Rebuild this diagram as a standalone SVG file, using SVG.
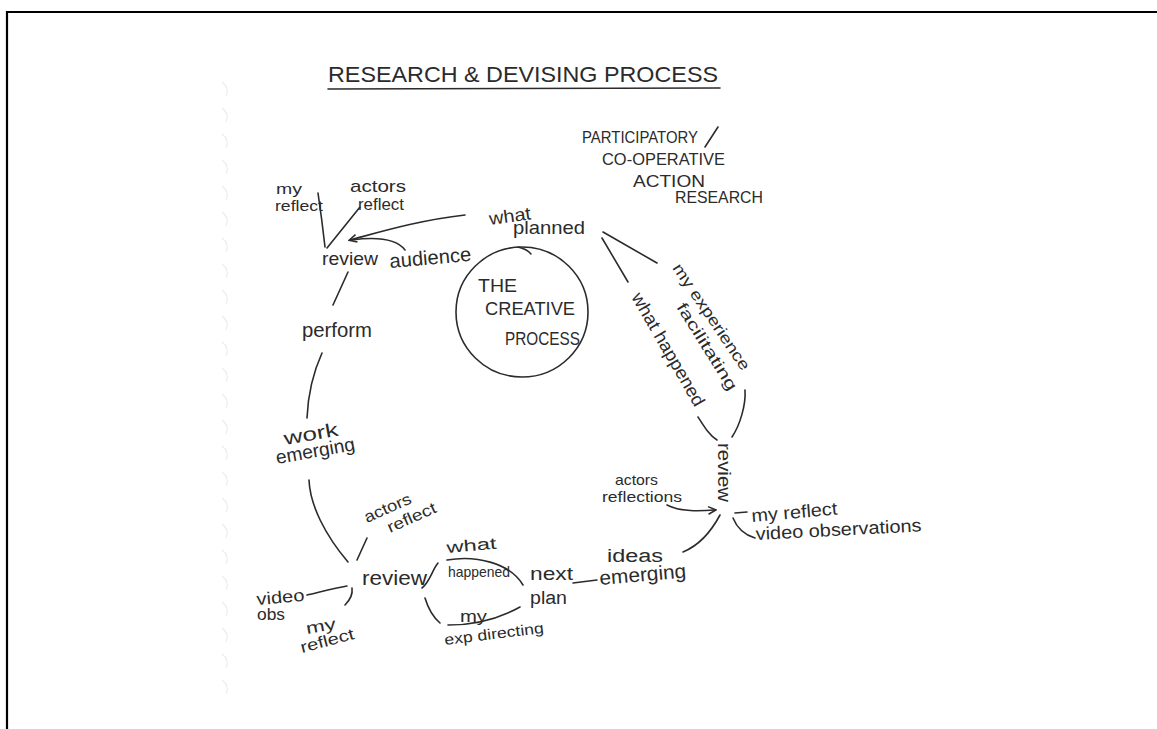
<svg xmlns="http://www.w3.org/2000/svg" width="1157" height="729" viewBox="0 0 1157 729">
  <style>
    .ink { fill: none; stroke: #2b2b2b; stroke-width: 1.6; stroke-linecap: round; stroke-linejoin: round; }
    .frame { fill: none; stroke: #000; stroke-width: 2.2; }
    .hole { fill: none; stroke: #ececec; stroke-width: 1.2; }
    .caps { font-family: "Liberation Sans", "DejaVu Sans", sans-serif; fill: #2b2b2b; }
    .hand { font-family: "Liberation Sans", "DejaVu Sans", sans-serif; fill: #2b2b2b; }
  </style>
  <defs>
    <marker id="tip" viewBox="0 0 10 10" refX="8" refY="5" markerWidth="6" markerHeight="6" orient="auto-start-reverse">
      <path d="M1,1 L9,5 L1,9" fill="none" stroke="#2b2b2b" stroke-width="1.6"/>
    </marker>
  </defs>

  <rect width="1157" height="729" fill="#fff"/>
  <path class="frame" d="M7,729 L7,12 L1157,12"/>

  <!-- notebook punch marks along the left margin -->
  <g id="margin">
    <path class="hole" d="M222,82 q8,6 4,14"/>
    <path class="hole" d="M222,108 q8,6 4,14"/>
    <path class="hole" d="M222,134 q8,6 4,14"/>
    <path class="hole" d="M222,160 q8,6 4,14"/>
    <path class="hole" d="M222,186 q8,6 4,14"/>
    <path class="hole" d="M222,212 q8,6 4,14"/>
    <path class="hole" d="M222,238 q8,6 4,14"/>
    <path class="hole" d="M222,264 q8,6 4,14"/>
    <path class="hole" d="M222,290 q8,6 4,14"/>
    <path class="hole" d="M222,316 q8,6 4,14"/>
    <path class="hole" d="M222,342 q8,6 4,14"/>
    <path class="hole" d="M222,368 q8,6 4,14"/>
    <path class="hole" d="M222,394 q8,6 4,14"/>
    <path class="hole" d="M222,420 q8,6 4,14"/>
    <path class="hole" d="M222,446 q8,6 4,14"/>
    <path class="hole" d="M222,472 q8,6 4,14"/>
    <path class="hole" d="M222,498 q8,6 4,14"/>
    <path class="hole" d="M222,524 q8,6 4,14"/>
    <path class="hole" d="M222,550 q8,6 4,14"/>
    <path class="hole" d="M222,576 q8,6 4,14"/>
    <path class="hole" d="M222,602 q8,6 4,14"/>
    <path class="hole" d="M222,628 q8,6 4,14"/>
    <path class="hole" d="M222,654 q8,6 4,14"/>
    <path class="hole" d="M222,680 q8,6 4,14"/>
  </g>

  <!-- heading -->
  <g id="title">
    <text class="caps" x="328" y="82" font-size="22" textLength="390" lengthAdjust="spacingAndGlyphs">RESEARCH &amp; DEVISING PROCESS</text>
    <path class="ink" d="M328,89 L720,88" stroke-width="2"/>
  </g>

  <g id="method">
    <text class="caps" x="582" y="143" font-size="17" textLength="116" lengthAdjust="spacingAndGlyphs">PARTICIPATORY</text>
    <path class="ink" d="M705,147 L718,127"/>
    <text class="caps" x="602" y="165" font-size="17" textLength="123" lengthAdjust="spacingAndGlyphs">CO-OPERATIVE</text>
    <text class="caps" x="633" y="187" font-size="17" textLength="72" lengthAdjust="spacingAndGlyphs">ACTION</text>
    <text class="caps" x="675" y="203" font-size="17" textLength="88" lengthAdjust="spacingAndGlyphs">RESEARCH</text>
  </g>

  <!-- centre -->
  <g id="creative-process">
    <ellipse class="ink" cx="522" cy="312" rx="66" ry="65" stroke-width="2"/>
    <path class="ink" d="M518,247 Q527,249 531,254" stroke-width="2"/>
    <text class="caps" x="478" y="292" font-size="18" textLength="39" lengthAdjust="spacingAndGlyphs">THE</text>
    <text class="caps" x="485" y="315" font-size="18" textLength="90" lengthAdjust="spacingAndGlyphs">CREATIVE</text>
    <text class="caps" x="505" y="345" font-size="18" textLength="75" lengthAdjust="spacingAndGlyphs">PROCESS</text>
  </g>

  <!-- connectors -->
  <g id="connectors">
    <path class="ink" d="M318,193 Q322,220 325,247"/>
    <path class="ink" d="M360,207 L327,248"/>
    <path class="ink" d="M465,215 C420,220 380,232 350,240" marker-end="url(#tip)"/>
    <path class="ink" d="M405,250 C398,241 382,236 352,240"/>
    <path class="ink" d="M348,272 L333,305"/>
    <path class="ink" d="M322,353 C312,375 308,395 307,418"/>
    <path class="ink" d="M309,480 C310,505 325,535 348,562"/>
    <path class="ink" d="M367,538 L357,560"/>
    <path class="ink" d="M307,595 C320,592 335,588 347,586"/>
    <path class="ink" d="M352,588 C353,595 350,600 345,605"/>
    <path class="ink" d="M422,588 C430,582 432,570 438,563"/>
    <path class="ink" d="M447,560 C476,555 510,563 523,585"/>
    <path class="ink" d="M425,598 C428,608 433,617 440,623"/>
    <path class="ink" d="M448,625 C475,625 500,618 520,607"/>
    <path class="ink" d="M573,583 L597,580"/>
    <path class="ink" d="M683,552 C700,545 712,530 720,515"/>
    <path class="ink" d="M667,505 C680,512 700,511 715,510" marker-end="url(#tip)"/>
    <path class="ink" d="M735,513 L747,512"/>
    <path class="ink" d="M733,518 C737,528 745,535 755,538"/>
    <path class="ink" d="M603,232 L657,263"/>
    <path class="ink" d="M602,238 L628,282"/>
    <path class="ink" d="M698,417 C705,428 710,436 717,440"/>
    <path class="ink" d="M745,390 C746,405 740,425 732,437"/>
  </g>

  <!-- upper-left review cluster -->
  <g id="my-reflect-top">
    <text class="hand" x="276" y="194" font-size="15" textLength="26" lengthAdjust="spacingAndGlyphs">my</text>
    <text class="hand" x="275" y="211" font-size="15" textLength="48" lengthAdjust="spacingAndGlyphs">reflect</text>
  </g>
  <g id="actors-reflect-top">
    <text class="hand" x="350" y="192" font-size="17" textLength="56" lengthAdjust="spacingAndGlyphs">actors</text>
    <text class="hand" x="358" y="210" font-size="16" textLength="46" lengthAdjust="spacingAndGlyphs">reflect</text>
  </g>
  <g id="what-planned">
    <text class="hand" x="490" y="225" font-size="18" textLength="42" lengthAdjust="spacingAndGlyphs" transform="rotate(-8 490 225)">what</text>
    <text class="hand" x="513" y="234" font-size="19" textLength="72" lengthAdjust="spacingAndGlyphs">planned</text>
  </g>
  <g id="review-top">
    <text class="hand" x="322" y="265" font-size="19" textLength="56" lengthAdjust="spacingAndGlyphs">review</text>
  </g>
  <g id="audience">
    <text class="hand" x="390" y="268" font-size="20" textLength="82" lengthAdjust="spacingAndGlyphs" transform="rotate(-5 390 268)">audience</text>
  </g>
  <g id="perform">
    <text class="hand" x="302" y="337" font-size="20" textLength="70" lengthAdjust="spacingAndGlyphs">perform</text>
  </g>
  <g id="work-emerging">
    <text class="hand" x="285" y="445" font-size="19" textLength="55" lengthAdjust="spacingAndGlyphs" transform="rotate(-10 285 445)">work</text>
    <text class="hand" x="277" y="464" font-size="19" textLength="80" lengthAdjust="spacingAndGlyphs" transform="rotate(-10 277 464)">emerging</text>
  </g>

  <!-- lower-left review cluster -->
  <g id="actors-reflect-bottom">
    <text class="hand" x="367" y="523" font-size="16" textLength="50" lengthAdjust="spacingAndGlyphs" transform="rotate(-24 367 523)">actors</text>
    <text class="hand" x="390" y="533" font-size="16" textLength="52" lengthAdjust="spacingAndGlyphs" transform="rotate(-24 390 533)">reflect</text>
  </g>
  <g id="review-bottom">
    <text class="hand" x="362" y="585" font-size="20" textLength="65" lengthAdjust="spacingAndGlyphs">review</text>
  </g>
  <g id="video-obs">
    <text class="hand" x="257" y="605" font-size="17" textLength="48" lengthAdjust="spacingAndGlyphs" transform="rotate(-5 257 605)">video</text>
    <text class="hand" x="257" y="620" font-size="16" textLength="28" lengthAdjust="spacingAndGlyphs">obs</text>
  </g>
  <g id="my-reflect-bottom">
    <text class="hand" x="307" y="634" font-size="16" textLength="30" lengthAdjust="spacingAndGlyphs" transform="rotate(-10 307 634)">my</text>
    <text class="hand" x="302" y="653" font-size="16" textLength="55" lengthAdjust="spacingAndGlyphs" transform="rotate(-15 302 653)">reflect</text>
  </g>
  <g id="what-happened-bottom">
    <text class="hand" x="447" y="553" font-size="16" textLength="50" lengthAdjust="spacingAndGlyphs" transform="rotate(-5 447 553)">what</text>
    <text class="hand" x="448" y="577" font-size="15" textLength="62" lengthAdjust="spacingAndGlyphs">happened</text>
  </g>
  <g id="my-exp-directing">
    <text class="hand" x="460" y="622" font-size="16" textLength="27" lengthAdjust="spacingAndGlyphs">my</text>
    <text class="hand" x="445" y="645" font-size="15" textLength="100" lengthAdjust="spacingAndGlyphs" transform="rotate(-7 445 645)">exp directing</text>
  </g>
  <g id="next-plan">
    <text class="hand" x="530" y="580" font-size="19" textLength="43" lengthAdjust="spacingAndGlyphs">next</text>
    <text class="hand" x="530" y="604" font-size="18" textLength="37" lengthAdjust="spacingAndGlyphs">plan</text>
  </g>
  <g id="ideas-emerging">
    <text class="hand" x="607" y="562" font-size="18" textLength="56" lengthAdjust="spacingAndGlyphs">ideas</text>
    <text class="hand" x="600" y="585" font-size="20" textLength="87" lengthAdjust="spacingAndGlyphs" transform="rotate(-5 600 585)">emerging</text>
  </g>

  <!-- right-hand review cluster -->
  <g id="what-happened-right">
    <text class="hand" x="631" y="297" font-size="18" textLength="128" lengthAdjust="spacingAndGlyphs" transform="rotate(60 631 297)">what happened</text>
  </g>
  <g id="my-experience">
    <text class="hand" x="672" y="268" font-size="16" textLength="125" lengthAdjust="spacingAndGlyphs" transform="rotate(56 672 268)">my experience</text>
  </g>
  <g id="facilitating">
    <text class="hand" x="676" y="307" font-size="16" textLength="100" lengthAdjust="spacingAndGlyphs" transform="rotate(58 676 307)">facilitating</text>
  </g>
  <g id="review-right">
    <text class="hand" x="718" y="443" font-size="18" textLength="59" lengthAdjust="spacingAndGlyphs" transform="rotate(90 718 443)">review</text>
  </g>
  <g id="actors-reflections">
    <text class="hand" x="615" y="485" font-size="15" textLength="43" lengthAdjust="spacingAndGlyphs">actors</text>
    <text class="hand" x="602" y="502" font-size="15" textLength="80" lengthAdjust="spacingAndGlyphs">reflections</text>
  </g>
  <g id="my-reflect-right">
    <text class="hand" x="752" y="522" font-size="18" textLength="86" lengthAdjust="spacingAndGlyphs" transform="rotate(-5 752 522)">my reflect</text>
  </g>
  <g id="video-observations">
    <text class="hand" x="756" y="540" font-size="18" textLength="166" lengthAdjust="spacingAndGlyphs" transform="rotate(-3 756 540)">video observations</text>
  </g>
</svg>
